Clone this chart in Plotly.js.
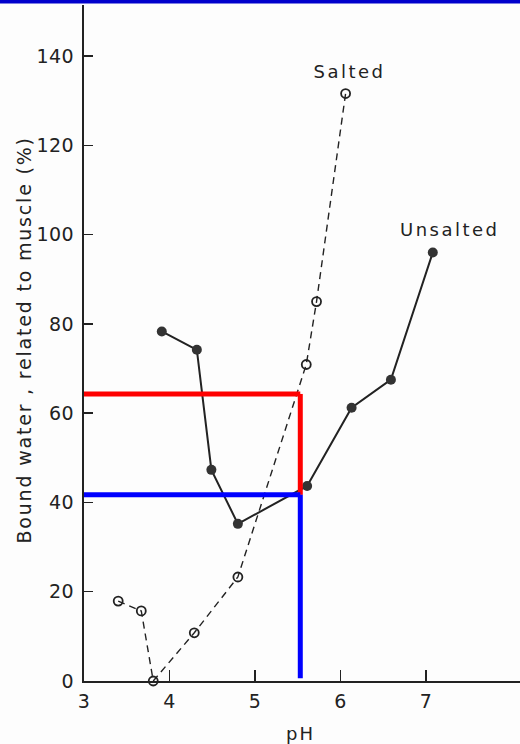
<!DOCTYPE html>
<html>
<head>
<meta charset="utf-8">
<script src="https://cdn.plot.ly/plotly-3.0.1.min.js"></script>
<style>
  html, body { margin: 0; padding: 0; background: #fdfdfd; }
  #chart { width: 520px; height: 744px; }
  #chart .annotation[data-index="0"] text,
  #chart .annotation[data-index="1"] text { letter-spacing: 2.5px; }
  #chart .annotation[data-index="2"] text { letter-spacing: 1.8px; }
  #chart .annotation[data-index="3"] text { letter-spacing: 2px; }
  #chart .xtick text, #chart .ytick text { letter-spacing: 0.5px; }
</style>
</head>
<body>
<div id="chart"></div>
<script>
// Salted (open circles, dashed line)
const salted_pH    = [3.40, 3.67, 3.81, 4.29, 4.80, 5.60, 5.72, 6.06];
const salted_water = [17.9, 15.7, 0.0, 10.8, 23.3, 70.9, 85.0, 131.6];

// Unsalted (filled circles, solid line)
const unsalted_pH    = [3.91, 4.32, 4.49, 4.80, 5.61, 6.13, 6.59, 7.08];
const unsalted_water = [78.3, 74.2, 47.3, 35.2, 43.7, 61.2, 67.5, 96.0];

// Axis ticks
const xTicks = [3, 4, 5, 6, 7];
const yTicks = [0, 20, 40, 60, 80, 100, 120, 140];

// Overlay guide lines drawn on the scan (red and blue)
const guide_pH = 5.53;
const red_level = 64.3;
const blue_level = 41.7;

const FONT = '"DejaVu Sans", "Liberation Sans", sans-serif';
const INK = '#222222';

const traces = [
  {
    x: salted_pH, y: salted_water, type: 'scatter', mode: 'lines+markers',
    line: { color: INK, width: 1.4, dash: '7px,5px' },
    marker: { symbol: 'circle-open', size: 9, color: INK, line: { width: 1.8, color: INK } },
    showlegend: false, cliponaxis: false, hoverinfo: 'skip'
  },
  {
    x: unsalted_pH, y: unsalted_water, type: 'scatter', mode: 'lines+markers',
    line: { color: INK, width: 2 },
    marker: { symbol: 'circle', size: 10, color: '#333333' },
    showlegend: false, cliponaxis: false, hoverinfo: 'skip'
  }
];

const plotH = 676;
const shapes = [
  // top blue band from scan
  { type: 'rect', xref: 'paper', yref: 'paper', x0: -84/436, x1: 1, y0: 1 + 1.5/plotH, y1: 1 + 5/plotH,
    fillcolor: '#0000cc', line: { width: 0 }, layer: 'above' },
  // red guide
  { type: 'line', xref: 'x', yref: 'y', x0: 3, x1: guide_pH, y0: red_level, y1: red_level,
    line: { color: '#ff0000', width: 5 }, layer: 'above' },
  { type: 'line', xref: 'x', yref: 'y', x0: guide_pH, x1: guide_pH, y0: red_level, y1: blue_level,
    line: { color: '#ff0000', width: 5 }, layer: 'above' },
  // blue guide
  { type: 'line', xref: 'x', yref: 'y', x0: 3, x1: guide_pH, y0: blue_level, y1: blue_level,
    line: { color: '#0000ff', width: 5 }, layer: 'above' },
  { type: 'line', xref: 'x', yref: 'y', x0: guide_pH, x1: guide_pH, y0: blue_level, y1: 0.6,
    line: { color: '#0000ff', width: 5 }, layer: 'above' }
];

const annotations = [
  { x: 6.11, y: 136.5, xref: 'x', yref: 'y', text: 'Salted', showarrow: false,
    font: { family: FONT, size: 18, color: INK } },
  { x: 7.28, y: 101.1, xref: 'x', yref: 'y', text: 'Unsalted', showarrow: false,
    font: { family: FONT, size: 18, color: INK } },
  { x: -60/436, y: (681 - 340) / plotH, xref: 'paper', yref: 'paper', textangle: -90,
    text: 'Bound water , related to muscle (%)', showarrow: false,
    xanchor: 'center', yanchor: 'middle',
    font: { family: FONT, size: 19, color: INK } },
  { x: 216/436, y: (681 - 733) / plotH, xref: 'paper', yref: 'paper',
    text: 'pH', showarrow: false, xanchor: 'center', yanchor: 'middle',
    font: { family: FONT, size: 18, color: INK } }
];

const layout = {
  width: 520, height: 744,
  margin: { l: 84, r: 0, t: 5, b: 63, pad: 0 },
  paper_bgcolor: '#fdfdfd', plot_bgcolor: '#fdfdfd',
  font: { family: FONT, size: 18, color: INK },
  showlegend: false,
  xaxis: {
    range: [3, 8.1], tickvals: xTicks, ticktext: xTicks.map(String),
    ticks: 'inside', ticklen: 11, tickwidth: 1.5, tickcolor: INK,
    showline: true, linecolor: INK, linewidth: 2, showgrid: false, zeroline: false,
    tickfont: { family: FONT, size: 19, color: INK },
    ticklabelstandoff: 2
  },
  yaxis: {
    range: [0, plotH / 4.464], tickvals: yTicks, ticktext: yTicks.map(String),
    ticks: 'inside', ticklen: 9, tickwidth: 1.5, tickcolor: INK,
    showline: true, linecolor: INK, linewidth: 2, showgrid: false, zeroline: false,
    tickfont: { family: FONT, size: 19, color: INK },
    ticklabelstandoff: 4
  },
  shapes: shapes,
  annotations: annotations
};

Plotly.newPlot('chart', traces, layout, { staticPlot: true, displayModeBar: false });
</script>
</body>
</html>
